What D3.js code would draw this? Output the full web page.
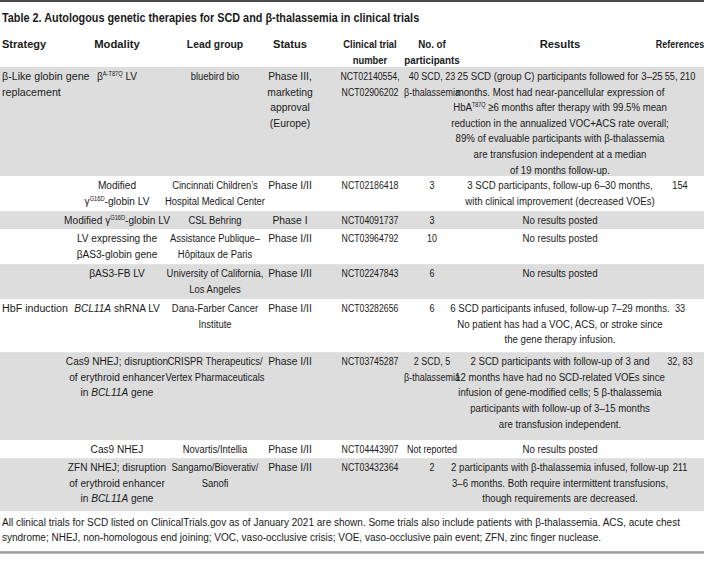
<!DOCTYPE html>
<html><head><meta charset="utf-8">
<script src="https://cdn.jsdelivr.net/npm/d3@7"></script>
<style>
html,body{margin:0;padding:0;background:#fff;}
svg{display:block;}
</style></head>
<body>
<svg id="chart" width="704" height="567"></svg>
<script>
// ---------------- data ----------------
const title = "Table 2. Autologous genetic therapies for SCD and β-thalassemia in clinical trials";
const columnKeys = ["strategy","modality","lead","status","trial","participants","results","references"];
const columnHeaders = [["Strategy"],["Modality"],["Lead group"],["Status"],["Clinical trial","number"],["No. of","participants"],["Results"],["References"]];
const strategies = [["β-Like globin gene","replacement"],[],[],[],[],["HbF induction"],[],[],[]];
const modalities = [
  ["β^{A-T87Q} LV"],
  ["Modified","γ^{G16D}-globin LV"],
  ["Modified γ^{G16D}-globin LV"],
  ["LV expressing the","βAS3-globin gene"],
  ["βAS3-FB LV"],
  ["*BCL11A* shRNA LV"],
  ["Cas9 NHEJ; disruption","of erythroid enhancer","in *BCL11A* gene"],
  ["Cas9 NHEJ"],
  ["ZFN NHEJ; disruption","of erythroid enhancer","in *BCL11A* gene"]
];
const leadGroups = [
  ["bluebird bio"],
  ["Cincinnati Children’s","Hospital Medical Center"],
  ["CSL Behring"],
  ["Assistance Publique–","Hôpitaux de Paris"],
  ["University of California,","Los Angeles"],
  ["Dana-Farber Cancer","Institute"],
  ["CRISPR Therapeutics/","Vertex Pharmaceuticals"],
  ["Novartis/Intellia"],
  ["Sangamo/Bioverativ/","Sanofi"]
];
const statuses = [
  ["Phase III,","marketing","approval","(Europe)"],
  ["Phase I/II"],["Phase I"],["Phase I/II"],["Phase I/II"],["Phase I/II"],["Phase I/II"],["Phase I/II"],["Phase I/II"]
];
const trialNumbers = [
  ["NCT02140554,","NCT02906202"],["NCT02186418"],["NCT04091737"],["NCT03964792"],["NCT02247843"],
  ["NCT03282656"],["NCT03745287"],["NCT04443907"],["NCT03432364"]
];
const participants = [
  ["40 SCD, 23","β-thalassemia"],["3"],["3"],["10"],["6"],["6"],["2 SCD, 5","β-thalassemia"],["Not reported"],["2"]
];
const results = [
  ["25 SCD (group C) participants followed for 3–25","months. Most had near-pancellular expression of","HbA^{T87Q} ≥6 months after therapy with 99.5% mean","reduction in the annualized VOC+ACS rate overall;","89% of evaluable participants with β-thalassemia","are transfusion independent at a median","of 19 months follow-up."],
  ["3 SCD participants, follow-up 6–30 months,","with clinical improvement (decreased VOEs)"],
  ["No results posted"],
  ["No results posted"],
  ["No results posted"],
  ["6 SCD participants infused, follow-up 7–29 months.","No patient has had a VOC, ACS, or stroke since","the gene therapy infusion."],
  ["2 SCD participants with follow-up of 3 and","12 months have had no SCD-related VOEs since","infusion of gene-modified cells; 5 β-thalassemia","participants with follow-up of 3–15 months","are transfusion independent."],
  ["No results posted"],
  ["2 participants with β-thalassemia infused, follow-up","3–6 months. Both require intermittent transfusions,","though requirements are decreased."]
];
const references = [["55, 210"],["154"],[],[],[],["33"],["32, 83"],[],["211"]];
const footnote = [
  "All clinical trials for SCD listed on ClinicalTrials.gov as of January 2021 are shown. Some trials also include patients with β-thalassemia. ACS, acute chest",
  "syndrome; NHEJ, non-homologous end joining; VOC, vaso-occlusive crisis; VOE, vaso-occlusive pain event; ZFN, zinc finger nuclease."
];

// ---------------- layout ----------------
const W = 704;
const bodyFont = "'Liberation Sans', Arial, sans-serif";
const ink = "#1a1a1a";
const svg = d3.select("#chart");
const cellData = [strategies, modalities, leadGroups, statuses, trialNumbers, participants, results, references];

const xCol = d3.scaleOrdinal().domain(columnKeys).range([2, 117, 215, 290, 370, 432, 560, 680]);
const anchorCol = d3.scaleOrdinal().domain(columnKeys).range(["start","middle","middle","middle","middle","middle","middle","middle"]);
// horizontal condensation to imitate the narrow typeface
const squeezeBody = d3.scaleOrdinal().domain(columnKeys).range([0.93, 0.88, 0.82, 0.9, 0.76, 0.78, 0.84, 0.8]);
const squeezeHead = d3.scaleOrdinal().domain(columnKeys).range([0.96, 0.98, 0.9, 0.97, 0.82, 0.85, 0.98, 0.78]);

const lineH = 15.6, bodyTop = 67;
const rowPads = [0, 3.8, 2.4, 3.8, 3.8, 6.2, 10, 2.4, 6.2];
const nRows = modalities.length;
const rowLines = d3.range(nRows).map(i => d3.max(cellData, col => col[i].length));
const rowHeights = rowLines.map((n, i) => n * lineH + rowPads[i]);
const rowTops = [bodyTop, ...d3.cumsum(rowHeights).map(v => bodyTop + v)];
const yRow = d3.scaleOrdinal().domain(d3.range(nRows + 1)).range(rowTops);

function addRich(textSel, str) {
  const parts = str.split(/(\^\{[^}]*\}|\*[^*]*\*)/).filter(s => s.length);
  let raised = false;
  parts.forEach(p => {
    let t;
    if (p.startsWith("^{")) {
      textSel.append("tspan").attr("font-size", 6.5).attr("dy", -4).text(p.slice(2, -1));
      raised = true;
      return;
    } else if (p.startsWith("*")) {
      t = textSel.append("tspan").attr("font-style", "italic").text(p.slice(1, -1));
    } else {
      t = textSel.append("tspan").text(p);
    }
    if (raised) { t.attr("dy", 4); raised = false; }
  });
}

function drawText(parent, x, y, str, anchor, sx) {
  const g = parent.append("g").attr("transform", `translate(${x},${y}) scale(${sx},1)`);
  const t = g.append("text").attr("x", 0).attr("y", 0).attr("text-anchor", anchor);
  addRich(t, str);
  return t;
}

// top rule
svg.append("rect").attr("x", 0).attr("y", 0).attr("width", W).attr("height", 2).attr("fill", "#4a4a4a");

// title
const titleG = svg.append("g").attr("font-family", bodyFont).attr("font-weight", "bold")
  .attr("font-size", 13).attr("fill", ink);
drawText(titleG, 2, 22, title, "start", 0.835);

// row shading
svg.append("g").selectAll("rect").data(d3.range(nRows)).join("rect")
  .attr("x", 0).attr("width", W)
  .attr("y", i => yRow(i)).attr("height", i => yRow(i + 1) - yRow(i))
  .attr("fill", i => i % 2 === 0 ? "#dddddd" : "#ffffff");

// headers
const hdr = svg.append("g").attr("font-family", bodyFont).attr("font-weight", "bold")
  .attr("font-size", 11.5).attr("fill", ink);
columnKeys.forEach((k, c) => {
  columnHeaders[c].forEach((line, li) => {
    drawText(hdr, xCol(k), 48 + li * lineH, line, anchorCol(k), squeezeHead(k));
  });
});

// body cells
const body = svg.append("g").attr("font-family", bodyFont).attr("font-size", 11.5).attr("fill", ink);
columnKeys.forEach((k, c) => {
  cellData[c].forEach((lines, r) => {
    lines.forEach((line, li) => {
      drawText(body, xCol(k), yRow(r) + 13 + li * lineH, line, anchorCol(k), squeezeBody(k));
    });
  });
});

// footnote
const fnTop = yRow(nRows);
footnote.forEach((line, i) => {
  svg.append("text").attr("x", 2).attr("y", fnTop + 15 + i * 15)
    .attr("font-family", bodyFont).attr("font-size", 10)
    .attr("fill", ink).text(line);
});
svg.append("rect").attr("x", 0).attr("y", fnTop + 40).attr("width", W).attr("height", 2.5).attr("fill", "#9a9a9a");
</script>
</body></html>
